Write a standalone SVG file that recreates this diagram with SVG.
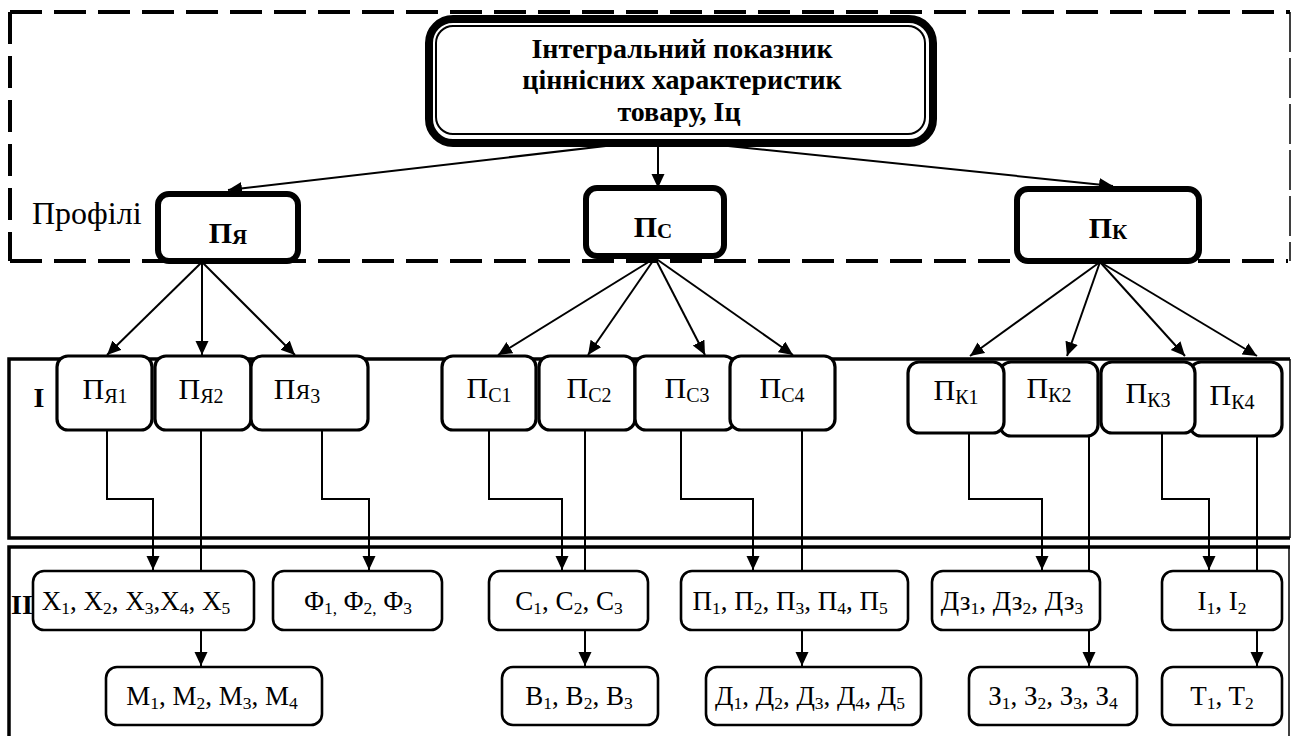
<svg xmlns="http://www.w3.org/2000/svg" width="1291" height="736" viewBox="0 0 1291 736">
  <style>
    .serif { font-family: "Liberation Serif", "Times New Roman", serif; fill: #000; }
    .title { font-size: 28px; font-weight: bold; text-anchor: middle; }
    .prof { font-size: 30px; font-weight: bold; text-anchor: middle; }
    .lvl1 { font-size: 30px; text-anchor: middle; }
    .lvl2 { font-size: 27px; text-anchor: middle; }
    .psub { font-size: 21px; }
    .sub { font-size: 20px; }
    .sub2 { font-size: 17.5px; }
    .dash { fill: none; stroke: #000; stroke-width: 4; stroke-dasharray: 32 12; }
    .frame { fill: none; stroke: #000; stroke-width: 3.5; }
    .thin { fill: none; stroke: #000; stroke-width: 1.5; }
    .pbox { fill: #fff; stroke: #000; stroke-width: 6; }
    .b1 { fill: #fff; stroke: #000; stroke-width: 3.2; }
    .b2 { fill: #fff; stroke: #000; stroke-width: 2.6; }
    .link { fill: none; stroke: #000; stroke-width: 2; marker-end: url(#arrow); }
  </style>
  <defs>
    <marker id="arrow" markerUnits="userSpaceOnUse" markerWidth="15" markerHeight="14" refX="14" refY="6.5" orient="auto">
      <path d="M0,0 L14,6.5 L0,13 z" fill="#000"/>
    </marker>
  </defs>

  <rect width="1291" height="736" fill="#fff"/>

  <!-- profile band (dashed) -->
  <g id="profile-band">
    <path class="dash" d="M10,12 H1290"/>
    <path class="dash" d="M10,12 V261"/>
    <path class="dash" d="M10,261 H1288"/>
    <path class="thin" d="M1290,12 V261" stroke-dasharray="40 6"/>
    <text class="serif" x="32" y="224" font-size="32">Профілі</text>
  </g>

  <!-- level frames -->
  <g id="level-1-frame">
    <path class="frame" d="M1290,359 H9 V538 H1290"/>
    <path class="thin" d="M1290,359 V538"/>
    <text class="serif" x="39" y="407" font-size="28" font-weight="bold" text-anchor="middle">I</text>
  </g>
  <g id="level-2-frame">
    <path class="frame" d="M1290,547 H9 V736"/>
    <path class="thin" d="M1289,547 V736"/>
    <text class="serif" x="11" y="614" font-size="28" font-weight="bold">II</text>
  </g>

  <!-- connectors -->
  <g id="connectors">
    <!-- index to profiles -->
    <path class="link" d="M640,142 L228,190"/>
    <path class="link" d="M690,142 L1113,186"/>
    <path class="link" d="M658,143 V188" stroke-width="3"/>
    <!-- profiles to level I -->
    <path class="link" d="M202,262 L107,355"/>
    <path class="link" d="M202,262 V355"/>
    <path class="link" d="M202,262 L295,355"/>
    <path class="link" d="M655,258 L498,355"/>
    <path class="link" d="M655,258 L588,355"/>
    <path class="link" d="M655,258 L705,355"/>
    <path class="link" d="M655,258 L793,355"/>
    <path class="link" d="M1100,262 L970,356"/>
    <path class="link" d="M1100,262 L1067,356"/>
    <path class="link" d="M1100,262 L1185,356"/>
    <path class="link" d="M1100,262 L1257,356"/>
    <!-- level I to level II -->
    <path class="link" d="M107,430 V499 H153 V570"/>
    <path class="link" d="M201,430 V666"/>
    <path class="link" d="M322,430 V499 H369 V570"/>
    <path class="link" d="M489,430 V499 H562 V570"/>
    <path class="link" d="M585,430 V666"/>
    <path class="link" d="M681,430 V499 H753 V570"/>
    <path class="link" d="M802,430 V666"/>
    <path class="link" d="M969,432 V499 H1042 V570"/>
    <path class="link" d="M1089,436 V666"/>
    <path class="link" d="M1162,432 V499 H1209 V570"/>
    <path class="link" d="M1257,436 V666"/>
  </g>

  <!-- integral index -->
  <g id="node-index">
    <rect x="429" y="19" width="504" height="124" rx="24" fill="#fff" stroke="#000" stroke-width="8"/>
    <rect x="436" y="26" width="489" height="108" rx="17" fill="none" stroke="#000" stroke-width="2"/>
    <text class="serif title"><tspan x="682" y="58">Інтегральний показник</tspan><tspan x="682" y="89.3">ціннісних характеристик</tspan><tspan x="679" y="120.6">товару, Іц</tspan></text>
  </g>

  <!-- profiles -->
  <g id="node-pya">
    <rect class="pbox" x="158" y="194" width="140" height="67" rx="11"/>
    <text class="serif prof" x="228" y="243">П<tspan class="psub" dy="1">Я</tspan></text>
  </g>
  <g id="node-ps">
    <rect class="pbox" x="586" y="188" width="138" height="68" rx="11"/>
    <text class="serif prof" x="653" y="237">П<tspan class="psub" dy="1">С</tspan></text>
  </g>
  <g id="node-pk">
    <rect class="pbox" x="1017" y="189" width="182" height="72" rx="11"/>
    <text class="serif prof" x="1108" y="238">П<tspan class="psub" dy="1">К</tspan></text>
  </g>

  <!-- level I: profile П_Я -->
  <g id="node-pya1">
    <rect class="b1" x="57" y="356" width="95" height="74" rx="11"/>
    <text class="serif lvl1" x="105" y="399">П<tspan class="sub" dy="4">Я1</tspan></text>
  </g>
  <g id="node-pya2">
    <rect class="b1" x="155" y="356" width="96" height="74" rx="11"/>
    <text class="serif lvl1" x="201" y="399">П<tspan class="sub" dy="4">Я2</tspan></text>
  </g>
  <g id="node-pya3">
    <rect class="b1" x="251" y="356" width="117" height="74" rx="11"/>
    <text class="serif lvl1" x="297" y="399">П<tspan font-size="22">Я</tspan><tspan class="sub" dy="4">3</tspan></text>
  </g>

  <!-- level I: profile П_С -->
  <g id="node-ps1">
    <rect class="b1" x="442" y="356" width="94" height="74" rx="11"/>
    <text class="serif lvl1" x="489" y="398">П<tspan class="sub" dy="4">С1</tspan></text>
  </g>
  <g id="node-ps2">
    <rect class="b1" x="539" y="356" width="96" height="74" rx="11"/>
    <text class="serif lvl1" x="589" y="398">П<tspan class="sub" dy="4">С2</tspan></text>
  </g>
  <g id="node-ps3">
    <rect class="b1" x="635" y="356" width="100" height="74" rx="11"/>
    <text class="serif lvl1" x="687" y="398">П<tspan class="sub" dy="4">С3</tspan></text>
  </g>
  <g id="node-ps4">
    <rect class="b1" x="730" y="356" width="105" height="74" rx="11"/>
    <text class="serif lvl1" x="782" y="398">П<tspan class="sub" dy="4">С4</tspan></text>
  </g>

  <!-- level I: profile П_К -->
  <g id="node-pk2">
    <rect class="b1" x="1000" y="362" width="98" height="74" rx="11"/>
    <text class="serif lvl1" x="1049" y="398">П<tspan class="sub" dy="4">К2</tspan></text>
  </g>
  <g id="node-pk4">
    <rect class="b1" x="1190" y="362" width="92" height="74" rx="11"/>
    <text class="serif lvl1" x="1232" y="405">П<tspan class="sub" dy="4">К4</tspan></text>
  </g>
  <g id="node-pk1">
    <rect class="b1" x="908" y="362" width="96" height="71" rx="11"/>
    <text class="serif lvl1" x="956" y="400">П<tspan class="sub" dy="4">К1</tspan></text>
  </g>
  <g id="node-pk3">
    <rect class="b1" x="1101" y="362" width="94" height="71" rx="11"/>
    <text class="serif lvl1" x="1148" y="403">П<tspan class="sub" dy="4">К3</tspan></text>
  </g>

  <!-- level II, first row -->
  <g id="node-x">
    <rect class="b2" x="33" y="571" width="221" height="59" rx="11"/>
    <text class="serif lvl2" x="136" y="610">X<tspan class="sub2" dy="4">1</tspan><tspan dy="-4">, X</tspan><tspan class="sub2" dy="4">2</tspan><tspan dy="-4">, X</tspan><tspan class="sub2" dy="4">3</tspan><tspan dy="-4">,X</tspan><tspan class="sub2" dy="4">4</tspan><tspan dy="-4">, X</tspan><tspan class="sub2" dy="4">5</tspan></text>
  </g>
  <g id="node-f">
    <rect class="b2" x="273" y="571" width="169" height="59" rx="11"/>
    <text class="serif lvl2" x="358" y="610">Φ<tspan class="sub2" dy="4">1,</tspan><tspan dy="-4"> Φ</tspan><tspan class="sub2" dy="4">2,</tspan><tspan dy="-4"> Φ</tspan><tspan class="sub2" dy="4">3</tspan></text>
  </g>
  <g id="node-c">
    <rect class="b2" x="489" y="571" width="159" height="59" rx="11"/>
    <text class="serif lvl2" x="569" y="610">C<tspan class="sub2" dy="4">1</tspan><tspan dy="-4">, C</tspan><tspan class="sub2" dy="4">2</tspan><tspan dy="-4">, C</tspan><tspan class="sub2" dy="4">3</tspan></text>
  </g>
  <g id="node-p">
    <rect class="b2" x="681" y="571" width="227" height="59" rx="11"/>
    <text class="serif lvl2" x="790" y="610">П<tspan class="sub2" dy="4">1</tspan><tspan dy="-4">, П</tspan><tspan class="sub2" dy="4">2</tspan><tspan dy="-4">, П</tspan><tspan class="sub2" dy="4">3</tspan><tspan dy="-4">, П</tspan><tspan class="sub2" dy="4">4</tspan><tspan dy="-4">, П</tspan><tspan class="sub2" dy="4">5</tspan></text>
  </g>
  <g id="node-dz">
    <rect class="b2" x="932" y="571" width="168" height="59" rx="11"/>
    <text class="serif lvl2" x="1012" y="610">Дз<tspan class="sub2" dy="4">1</tspan><tspan dy="-4">, Дз</tspan><tspan class="sub2" dy="4">2</tspan><tspan dy="-4">, Дз</tspan><tspan class="sub2" dy="4">3</tspan></text>
  </g>
  <g id="node-i">
    <rect class="b2" x="1162" y="571" width="120" height="59" rx="11"/>
    <text class="serif lvl2" x="1222" y="610">І<tspan class="sub2" dy="4">1</tspan><tspan dy="-4">, І</tspan><tspan class="sub2" dy="4">2</tspan></text>
  </g>

  <!-- level II, second row -->
  <g id="node-m">
    <rect class="b2" x="106" y="667" width="216" height="58" rx="11"/>
    <text class="serif lvl2" x="212" y="705">M<tspan class="sub2" dy="4">1</tspan><tspan dy="-4">, M</tspan><tspan class="sub2" dy="4">2</tspan><tspan dy="-4">, M</tspan><tspan class="sub2" dy="4">3</tspan><tspan dy="-4">, M</tspan><tspan class="sub2" dy="4">4</tspan></text>
  </g>
  <g id="node-b">
    <rect class="b2" x="502" y="667" width="156" height="58" rx="11"/>
    <text class="serif lvl2" x="579" y="705">B<tspan class="sub2" dy="4">1</tspan><tspan dy="-4">, B</tspan><tspan class="sub2" dy="4">2</tspan><tspan dy="-4">, B</tspan><tspan class="sub2" dy="4">3</tspan></text>
  </g>
  <g id="node-d">
    <rect class="b2" x="706" y="667" width="215" height="58" rx="11"/>
    <text class="serif lvl2" x="810" y="705">Д<tspan class="sub2" dy="4">1</tspan><tspan dy="-4">, Д</tspan><tspan class="sub2" dy="4">2</tspan><tspan dy="-4">, Д</tspan><tspan class="sub2" dy="4">3</tspan><tspan dy="-4">, Д</tspan><tspan class="sub2" dy="4">4</tspan><tspan dy="-4">, Д</tspan><tspan class="sub2" dy="4">5</tspan></text>
  </g>
  <g id="node-z">
    <rect class="b2" x="969" y="667" width="168" height="58" rx="11"/>
    <text class="serif lvl2" x="1053" y="705">З<tspan class="sub2" dy="4">1</tspan><tspan dy="-4">, З</tspan><tspan class="sub2" dy="4">2</tspan><tspan dy="-4">, З</tspan><tspan class="sub2" dy="4">3</tspan><tspan dy="-4">, З</tspan><tspan class="sub2" dy="4">4</tspan></text>
  </g>
  <g id="node-t">
    <rect class="b2" x="1162" y="667" width="120" height="58" rx="11"/>
    <text class="serif lvl2" x="1222" y="705">T<tspan class="sub2" dy="4">1</tspan><tspan dy="-4">, T</tspan><tspan class="sub2" dy="4">2</tspan></text>
  </g>
</svg>
